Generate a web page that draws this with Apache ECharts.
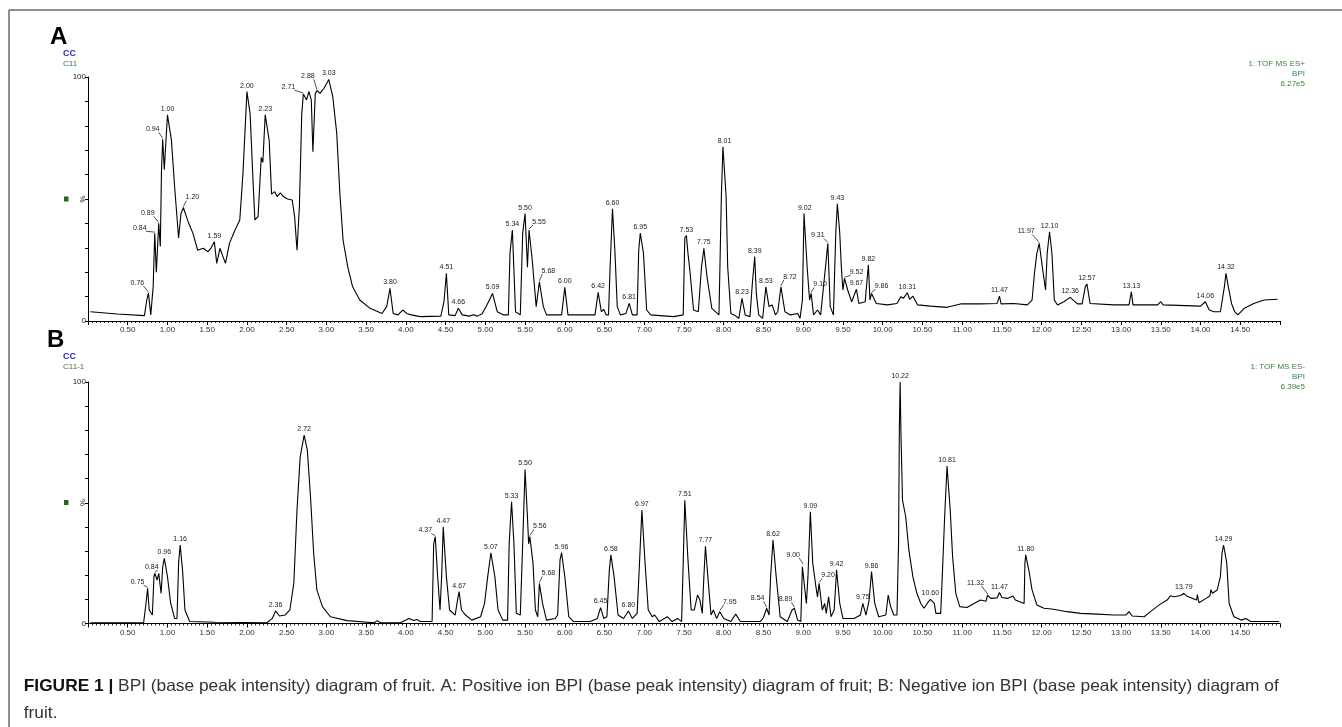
<!DOCTYPE html>
<html>
<head>
<meta charset="utf-8">
<script src="https://cdn.jsdelivr.net/npm/echarts@6.0.0/dist/echarts.min.js"></script>
<style>
  html, body { margin: 0; padding: 0; background: #ffffff; }
  #chart { width: 1342px; height: 727px; }
</style>
</head>
<body>
<div id="chart"></div>
<script>
// ---- Retention-time tick labels (min) ----
const xTickLabels = ['0.50','1.00','1.50','2.00','2.50','3.00','3.50','4.00','4.50','5.00','5.50','6.00','6.50','7.00',
  '7.50','8.00','8.50','9.00','9.50','10.00','10.50','11.00','11.50','12.00','12.50','13.00','13.50','14.00','14.50'];
const yTickLabels = ['0', '100'];

// ---- A: positive ion BPI, labelled peak apexes (time, relative intensity %) ----
const peakTimesA = [0.76,0.84,0.89,0.94,1.00,1.20,1.59,2.00,2.23,2.71,2.88,3.03,3.80,4.51,4.66,5.09,5.34,5.50,5.55,5.68,
  6.00,6.42,6.60,6.81,6.95,7.53,7.75,8.01,8.23,8.39,8.53,8.72,9.02,9.10,9.31,9.43,9.52,9.67,9.82,9.86,
  10.31,11.47,11.97,12.10,12.36,12.57,13.13,14.06,14.32];
const peakHeightsA = [11.5,36,40,74.5,84.5,46.5,32.5,94,84.5,93,94.5,99,13.4,19.5,5.2,11.3,37.3,44,37.3,16,
  13.8,11.7,46,7.2,36,35,29.8,71.4,9.3,26.4,14,14,44,11.3,31.8,48,17.5,13,23,11.3,
  11.6,10.2,31.8,36.6,9.7,15.2,12,7.9,19.5];

// ---- A: trace between the apexes ----
const traceA = [
  [0.03,3.8],[0.37,2.9],[0.71,2.2],[0.74,8.6],[0.79,2.5],[0.82,14],[0.86,20],[0.91,30.5],[0.925,62],[0.96,62],
  [1.05,74],[1.09,55],[1.14,34],[1.17,44],[1.26,40.7],[1.32,36],[1.38,29],[1.45,29.8],[1.51,28.4],[1.55,30],
  [1.62,23.6],[1.66,29.8],[1.73,23.6],[1.78,31.8],[1.85,37.3],[1.91,41.4],[1.95,60.5],[2.04,85],[2.08,55],[2.10,41.4],
  [2.14,42.8],[2.18,67],[2.20,65],[2.28,74],[2.31,52],[2.35,53],[2.38,51],[2.42,52.5],[2.46,51],[2.51,50],
  [2.57,49.6],[2.60,42.8],[2.63,29],[2.66,46.9],[2.69,85],[2.75,90.6],[2.78,94],[2.81,90.6],[2.83,69.4],[2.86,93],
  [2.92,93.3],[2.97,95.4],[3.08,92],[3.13,77],[3.17,52],[3.21,33],[3.27,22],[3.33,14],[3.42,8.6],[3.55,5.2],
  [3.70,3.1],[3.76,6],[3.84,3.1],[3.90,2.5],[3.96,4.5],[4.01,3.1],[4.07,2.5],[4.18,1.8],[4.44,2],[4.48,8],
  [4.54,2.5],[4.62,2.2],[4.71,2.5],[4.80,2.0],[4.85,2.6],[4.90,2.0],[4.96,3.0],[5.02,6.6],[5.15,3.8],[5.23,2.5],
  [5.29,2.5],[5.31,27.7],[5.38,3.8],[5.44,2.5],[5.47,36],[5.53,22],[5.59,25],[5.64,5.9],[5.73,5.9],[5.77,2.5],
  [5.96,2.5],[6.04,2.5],[6.38,2.5],[6.46,3.8],[6.49,4.8],[6.52,2.5],[6.55,2.5],[6.57,22],[6.63,29],[6.66,5.9],
  [6.70,2.5],[6.77,3.1],[6.85,2.5],[6.91,2.5],[6.93,29],[6.99,27.7],[7.03,4.5],[7.08,2.5],[7.20,2.2],[7.37,1.8],
  [7.49,2.5],[7.51,34],[7.55,27.7],[7.57,22],[7.62,4.5],[7.68,3.8],[7.72,22],[7.79,18],[7.85,5.2],[7.94,2.5],
  [7.97,51],[7.99,71.4],[8.03,51],[8.05,22],[8.09,3.1],[8.13,2.5],[8.19,1.1],[8.27,2.5],[8.33,1.8],[8.36,15.4],
  [8.41,11.3],[8.44,2.5],[8.49,1.1],[8.57,5.9],[8.61,6.6],[8.65,2.5],[8.68,3.8],[8.77,3.8],[8.84,2.5],[8.93,3.1],
  [8.96,1.1],[8.99,8.6],[9.01,44],[9.05,22],[9.08,8.6],[9.13,2.5],[9.18,4.5],[9.22,2.5],[9.24,3.1],[9.28,22],
  [9.34,5.9],[9.38,2.5],[9.41,36],[9.46,36],[9.48,22],[9.50,12.7],[9.56,12.7],[9.61,7.9],[9.70,7.2],[9.78,7.9],
  [9.84,8.6],[9.92,7.2],[10.06,6.6],[10.18,7.2],[10.23,10],[10.26,9.3],[10.34,8.9],[10.38,10.2],[10.44,6.6],[10.60,6.1],
  [10.81,5.6],[10.98,7],[11.23,7],[11.44,7.2],[11.49,7],[11.65,7.2],[11.82,6.6],[11.88,8.6],[11.91,19.5],[11.94,27.7],
  [12.01,22],[12.05,12.7],[12.07,27.7],[12.13,27.7],[12.16,8.6],[12.20,6.6],[12.28,7.9],[12.45,7],[12.51,7],[12.55,14.1],
  [12.61,7.2],[12.91,6.6],[13.10,6.6],[13.15,6.6],[13.46,6.6],[13.50,7.9],[13.53,6.6],[14.00,6.1],[14.11,4.5],[14.17,3.8],
  [14.25,3.8],[14.30,14],[14.35,14],[14.39,7.2],[14.43,3.8],[14.47,2.5],[14.55,5.2],[14.67,7.2],[14.80,8.6],[14.97,8.9]
];

// ---- B: negative ion BPI, labelled peak apexes ----
const peakTimesB = [0.75,0.84,0.96,1.16,2.36,2.72,4.37,4.47,4.67,5.07,5.33,5.50,5.56,5.68,5.96,6.45,6.58,6.80,6.97,
  7.51,7.77,7.95,8.54,8.62,8.89,9.00,9.09,9.20,9.42,9.75,9.86,10.22,10.60,10.81,11.32,11.47,11.80,13.79,14.29];
const peakHeightsB = [14.6,20.8,27,32.5,5.2,78,36,40,13.2,29.3,50.4,63.8,36,16.6,29.3,6.6,28.4,5.2,47,
  51,32,4.9,6.3,34.6,6.3,24.2,46.3,16.6,22.2,8.3,21.5,100,10,65.2,11.8,12.8,28.4,12.5,32.5];

// ---- B: trace between the apexes ----
const traceB = [
  [0.03,0.3],[0.70,0.3],[0.73,8.4],[0.77,5.6],[0.81,3.5],[0.83,19.4],[0.87,18],[0.89,20.8],[0.92,12.5],[0.94,23.5],
  [1.00,19.4],[1.04,8.4],[1.09,2.1],[1.12,2.1],[1.14,25],[1.19,22],[1.22,5.6],[1.28,0.8],[1.60,0.5],[2.25,0.3],
  [2.32,2.1],[2.41,3.1],[2.48,3.5],[2.54,5.6],[2.59,16.6],[2.63,47],[2.67,69],[2.76,71.8],[2.80,52.5],[2.84,29],
  [2.88,13.9],[2.95,7],[3.05,2.8],[3.26,1.2],[3.60,0.3],[3.64,1.2],[3.68,0.3],[3.93,0.3],[4.04,2.1],[4.10,1.2],
  [4.14,1.7],[4.18,0.8],[4.33,0.8],[4.35,33],[4.40,19.4],[4.43,5.6],[4.45,19.4],[4.51,19.4],[4.55,5.6],[4.62,3.5],
  [4.65,9.7],[4.70,5.6],[4.75,3.5],[4.77,4.2],[4.83,1.4],[4.94,2.8],[4.99,8.3],[5.03,19.4],[5.12,19.4],[5.16,5.6],
  [5.22,1.4],[5.28,1.4],[5.30,33],[5.36,33],[5.39,4.2],[5.44,3.5],[5.47,33],[5.53,44],[5.545,33],[5.60,25],
  [5.63,5.6],[5.66,2.8],[5.72,8.3],[5.77,1.4],[5.88,2.1],[5.91,3.5],[5.94,26.3],[6.00,19.4],[6.05,2.8],[6.11,0.8],
  [6.32,0.8],[6.41,2.1],[6.49,2.1],[6.53,2.8],[6.56,22],[6.62,19.4],[6.67,3.5],[6.74,2.1],[6.85,2.1],[6.91,4.2],
  [6.94,25],[7.01,25],[7.05,5.6],[7.10,2.8],[7.13,3.5],[7.19,0.8],[7.29,2.8],[7.35,0.8],[7.42,2.1],[7.47,0.8],
  [7.49,25],[7.55,26.3],[7.59,5.6],[7.63,5.6],[7.67,11.8],[7.70,9.7],[7.73,4.2],[7.75,19.4],[7.80,19.4],[7.84,3.5],
  [7.87,5.6],[7.91,2.1],[8.00,2.1],[8.09,0.8],[8.15,3.9],[8.21,0.8],[8.46,0.8],[8.50,2.5],[8.57,3.5],[8.59,19.4],
  [8.66,19.4],[8.71,2.8],[8.80,0.8],[8.86,5.6],[8.93,1.4],[8.97,0.8],[8.99,23.5],[9.04,8.3],[9.06,19.4],[9.12,25],
  [9.16,15.2],[9.18,11],[9.24,5.6],[9.27,8.3],[9.29,4.2],[9.32,11],[9.35,2.8],[9.39,5.6],[9.46,8.3],[9.50,2.1],
  [9.64,2.1],[9.72,3.5],[9.79,3.5],[9.83,9.7],[9.90,8.3],[9.95,2.8],[10.04,3.5],[10.07,11.8],[10.10,7],[10.14,3.5],
  [10.18,3.5],[10.20,33],[10.21,81.5],[10.23,78.7],[10.25,51],[10.29,44.2],[10.33,30.4],[10.38,19.4],[10.43,12.5],[10.48,8.3],
  [10.52,6.3],[10.56,8.3],[10.65,8.3],[10.67,4.2],[10.73,4.2],[10.75,19.4],[10.78,44.2],[10.85,47],[10.88,27.7],[10.92,12.5],
  [10.97,7],[11.06,6.6],[11.15,8.3],[11.23,9.7],[11.30,9.2],[11.36,10.4],[11.44,10.6],[11.50,10.8],[11.57,10.4],[11.64,11.4],
  [11.67,9.7],[11.78,8.3],[11.79,25],[11.84,22],[11.88,13.9],[11.94,7.7],[12.03,6.3],[12.15,5.9],[12.32,4.9],[12.49,4.2],
  [12.70,3.9],[12.91,3.5],[13.06,3.5],[13.10,4.9],[13.14,3.1],[13.29,2.8],[13.37,4.9],[13.48,7.7],[13.58,9.7],[13.62,11.5],
  [13.67,11.1],[13.75,11.6],[13.82,11.5],[13.90,10.4],[13.95,9.7],[13.96,12],[13.98,8.6],[14.07,10.4],[14.12,11.5],[14.13,14],
  [14.15,12.5],[14.21,13.9],[14.25,19.4],[14.27,29],[14.33,25],[14.36,8.3],[14.42,2.8],[14.51,1.4],[14.57,2.1],[14.63,0.8],
  [14.99,0.8]
];

// Label placement (px offset of the label centre from its apex); peaks not listed sit straight above.
const labelOffsetA = {
  '0.76': [-11, -10], '0.84': [-15, -5], '0.89': [-11, -10], '0.94': [-10, -10], '1.20': [9, -10],
  '2.71': [-15, -7], '2.88': [-9, -14], '5.55': [10, -8], '5.68': [9, -11], '8.72': [9, -10],
  '9.10': [9, -9], '9.31': [-10, -8], '9.52': [12, -6], '9.86': [10, -7], '11.97': [-13, -12]
};
const labelOffsetB = {
  '0.75': [-10, -6], '0.84': [-3, -6], '4.37': [-10, -6], '5.56': [10, -10], '5.68': [9, -10],
  '7.95': [10, -10], '8.54': [-9, -10], '8.89': [-9, -9], '9.00': [-10, -10], '9.20': [9, -8], '11.32': [-12, -12]
};

const FONT = '"Liberation Sans", Arial, Helvetica, sans-serif';

function buildTrace(base, times, heights) {
  const pts = base.concat(times.map((t, i) => [t, heights[i]]));
  pts.sort((a, b) => a[0] - b[0]);
  return pts;
}

function peakLabelSeries(times, heights, offsets, axisIndex) {
  return {
    type: 'custom',
    xAxisIndex: axisIndex,
    yAxisIndex: axisIndex,
    silent: true,
    clip: false,
    z: 5,
    data: times.map((t, i) => [t, heights[i]]),
    renderItem: function (params, api) {
      const t = api.value(0);
      const p = api.coord([t, api.value(1)]);
      const key = t.toFixed(2);
      const off = offsets[key];
      const children = [];
      let lx = p[0], ly = p[1] - 6;
      if (off) {
        lx = p[0] + off[0];
        ly = p[1] + off[1];
        const sx = lx + (off[0] < 0 ? 6 : (off[0] > 0 ? -6 : 0));
        children.push({
          type: 'line',
          shape: { x1: sx, y1: ly + 3, x2: p[0], y2: p[1] - 1 },
          style: { stroke: '#222', lineWidth: 0.8 }
        });
      }
      children.push({
        type: 'text',
        style: {
          text: key, x: lx, y: ly, align: 'center', verticalAlign: 'middle',
          fill: '#1a1a1a', font: '7px ' + FONT
        }
      });
      return { type: 'group', children: children };
    }
  };
}

function xAxisFor(gridIndex) {
  return {
    type: 'value', gridIndex: gridIndex, min: 0, max: 15, interval: 0.5,
    axisLine: { show: true, onZero: false, lineStyle: { color: '#000', width: 1 } },
    axisTick: { show: true, length: 4, lineStyle: { color: '#000', width: 1 } },
    minorTick: { show: true, splitNumber: 10, length: 2, lineStyle: { color: '#000', width: 0.8 } },
    splitLine: { show: false },
    axisLabel: {
      showMinLabel: false, showMaxLabel: false, margin: 5,
      fontSize: 8, color: '#333', fontFamily: FONT,
      formatter: function (v) { const s = v.toFixed(2); return xTickLabels.indexOf(s) >= 0 ? s : ''; }
    }
  };
}

function yAxisFor(gridIndex) {
  return {
    type: 'value', gridIndex: gridIndex, min: 0, max: 100, interval: 10,
    axisLine: { show: true, lineStyle: { color: '#000', width: 1 } },
    axisTick: { show: true, length: 3, lineStyle: { color: '#000', width: 1 } },
    splitLine: { show: false },
    axisLabel: {
      margin: 2, fontSize: 8, color: '#222', fontFamily: FONT,
      formatter: function (v) { const s = String(v); return yTickLabels.indexOf(s) >= 0 ? s : ''; }
    }
  };
}

function traceSeries(data, axisIndex) {
  return {
    type: 'line', xAxisIndex: axisIndex, yAxisIndex: axisIndex, data: data,
    symbol: 'none', showSymbol: false, smooth: false, silent: true,
    lineStyle: { color: '#000', width: 1.1 }
  };
}

const captionBold = 'FIGURE 1 |';
const captionLine1 = ' BPI (base peak intensity) diagram of fruit. A: Positive ion BPI (base peak intensity) diagram of fruit; B: Negative ion BPI (base peak intensity) diagram of';
const captionLine2 = 'fruit.';

// fit the caption's first line to the frame width
const measureCtx = document.createElement('canvas').getContext('2d');
measureCtx.font = 'bold 16.5px ' + FONT;
const wBold = measureCtx.measureText(captionBold).width;
measureCtx.font = '16.5px ' + FONT;
const wRest = measureCtx.measureText(captionLine1).width;
const captionScale = 1255 / (wBold + wRest);

const green = '#3b7f3b';

function panelHeader(letter, sample, yTop, yPct, legendY, ionText, bpiMax) {
  return [
    { type: 'text', x: letter === 'A' ? 50 : 47, y: yTop, style: { text: letter, font: 'bold 24px ' + FONT, fill: '#000', verticalAlign: 'middle' } },
    { type: 'text', x: 63, y: yTop + 16.5, style: { text: 'CC', font: 'bold 9px ' + FONT, fill: '#2b2bbf', verticalAlign: 'middle' } },
    { type: 'text', x: 63, y: yTop + 27, style: { text: sample, font: '8px ' + FONT, fill: '#2e7a3a', verticalAlign: 'middle' } },
    { type: 'rect', shape: { x: 64, y: yPct - 2.5, width: 4.5, height: 5 }, style: { fill: '#1e6b1e' } },
    { type: 'text', x: 82, y: yPct, rotation: -Math.PI / 2, style: { text: '%', font: '8px ' + FONT, fill: '#222', align: 'center', verticalAlign: 'middle' } },
    { type: 'text', x: 1305, y: legendY, style: { text: ionText, font: '8px ' + FONT, fill: green, align: 'right', verticalAlign: 'middle' } },
    { type: 'text', x: 1305, y: legendY + 10, style: { text: 'BPI', font: '8px ' + FONT, fill: '#2a8a5a', align: 'right', verticalAlign: 'middle' } },
    { type: 'text', x: 1305, y: legendY + 20, style: { text: bpiMax, font: '8px ' + FONT, fill: green, align: 'right', verticalAlign: 'middle' } }
  ];
}

const chart = echarts.init(document.getElementById('chart'), null, { renderer: 'canvas' });
chart.setOption({
  animation: false,
  backgroundColor: '#ffffff',
  grid: [
    { left: 88, top: 77, width: 1192, height: 244 },
    { left: 88, top: 382, width: 1192, height: 241.5 }
  ],
  xAxis: [xAxisFor(0), xAxisFor(1)],
  yAxis: [yAxisFor(0), yAxisFor(1)],
  series: [
    traceSeries(buildTrace(traceA, peakTimesA, peakHeightsA), 0),
    traceSeries(buildTrace(traceB, peakTimesB, peakHeightsB), 1),
    peakLabelSeries(peakTimesA, peakHeightsA, labelOffsetA, 0),
    peakLabelSeries(peakTimesB, peakHeightsB, labelOffsetB, 1)
  ],
  graphic: [
    // figure frame
    { type: 'line', shape: { x1: 9, y1: 10, x2: 1342, y2: 10 }, style: { stroke: '#6a6a6a', lineWidth: 1.5 } },
    { type: 'line', shape: { x1: 9, y1: 10, x2: 9, y2: 727 }, style: { stroke: '#6a6a6a', lineWidth: 1.5 } }
  ].concat(
    panelHeader('A', 'C11', 37, 199, 64, '1: TOF MS ES+', '6.27e5'),
    panelHeader('B', 'C11-1', 340, 502.5, 367, '1: TOF MS ES-', '6.39e5'),
    [
      {
        type: 'text', x: 25, y: 686, scaleX: captionScale, originX: 25,
        style: {
          text: '{b|' + captionBold + '}{n|' + captionLine1 + '}',
          verticalAlign: 'middle',
          rich: {
            b: { font: 'bold 16.5px ' + FONT, fill: '#111' },
            n: { font: '16.5px ' + FONT, fill: '#333' }
          }
        }
      },
      {
        type: 'text', x: 25, y: 713, scaleX: captionScale, originX: 25,
        style: { text: captionLine2, font: '16.5px ' + FONT, fill: '#333', verticalAlign: 'middle' }
      }
    ]
  )
});
</script>
</body>
</html>
